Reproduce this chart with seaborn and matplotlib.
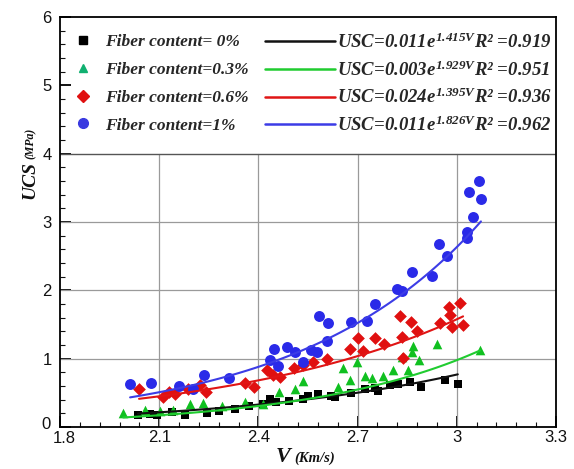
import numpy as np
import pandas as pd
import matplotlib
matplotlib.use("Agg")
import matplotlib.pyplot as plt
import matplotlib.transforms as mtransforms
from matplotlib.lines import Line2D
from matplotlib.ticker import MultipleLocator
import seaborn as sns

# Measured samples: ultrasonic pulse velocity V (km/s) and UCS (MPa)
v_f0 = [2.036, 2.072, 2.093, 2.139, 2.178, 2.245, 2.281, 2.329, 2.372, 2.414,
        2.435, 2.453, 2.492, 2.535, 2.550, 2.580, 2.619, 2.632, 2.680, 2.722,
        2.753, 2.762, 2.798, 2.822, 2.858, 2.892, 2.964, 3.003]
ucs_f0 = [0.176, 0.190, 0.176, 0.220, 0.176, 0.205, 0.234, 0.264, 0.307, 0.337,
          0.410, 0.366, 0.381, 0.410, 0.454, 0.483, 0.454, 0.439, 0.498, 0.556,
          0.571, 0.527, 0.615, 0.630, 0.659, 0.586, 0.688, 0.630]

v_f03 = [1.991, 2.057, 2.102, 2.142, 2.193, 2.232, 2.290, 2.359, 2.414, 2.462,
         2.511, 2.535, 2.641, 2.656, 2.677, 2.698, 2.722, 2.743, 2.777, 2.807,
         2.834, 2.852, 2.864, 2.867, 2.886, 2.940, 3.070]
ucs_f03 = [0.205, 0.249, 0.234, 0.249, 0.337, 0.351, 0.307, 0.366, 0.337, 0.512,
           0.556, 0.673, 0.586, 0.864, 0.688, 0.952, 0.747, 0.717, 0.747, 0.835,
           1.025, 0.835, 1.098, 1.186, 0.981, 1.215, 1.127]

v_f06 = [2.039, 2.111, 2.130, 2.148, 2.187, 2.223, 2.241, 2.359, 2.387, 2.426,
         2.444, 2.465, 2.508, 2.535, 2.565, 2.607, 2.677, 2.701, 2.716, 2.753,
         2.780, 2.828, 2.834, 2.837, 2.861, 2.880, 2.949, 2.976, 2.979, 2.985,
         3.010, 3.019]
ucs_f06 = [0.556, 0.439, 0.512, 0.483, 0.556, 0.615, 0.512, 0.644, 0.586, 0.835,
           0.761, 0.732, 0.864, 0.908, 0.952, 0.996, 1.142, 1.303, 1.113, 1.303,
           1.215, 1.625, 1.318, 1.010, 1.537, 1.406, 1.523, 1.757, 1.640, 1.464,
           1.816, 1.493]

v_f1 = [2.012, 2.075, 2.160, 2.202, 2.235, 2.311, 2.435, 2.447, 2.459, 2.486,
        2.511, 2.535, 2.559, 2.577, 2.583, 2.610, 2.607, 2.680, 2.728, 2.753,
        2.819, 2.834, 2.864, 2.925, 2.946, 2.970, 3.031, 3.031, 3.049, 3.037,
        3.067, 3.073]
ucs_f1 = [0.630, 0.644, 0.600, 0.556, 0.761, 0.717, 0.981, 1.142, 0.893, 1.171,
          1.098, 0.952, 1.127, 1.098, 1.625, 1.523, 1.259, 1.537, 1.552, 1.801,
          2.020, 1.991, 2.269, 2.211, 2.679, 2.504, 2.855, 2.767, 3.075, 3.441,
          3.602, 3.338]

# Exponential fits USC = a * exp(b * V)
fit_a = [0.011, 0.003, 0.024, 0.011]
fit_b = [1.415, 1.929, 1.395, 1.826]
fit_r2 = [0.919, 0.951, 0.936, 0.962]

content_labels = ["Fiber content= 0%", "Fiber content=0.3%",
                  "Fiber content=0.6%", "Fiber content=1%"]

x_ticks = [1.8, 2.1, 2.4, 2.7, 3.0, 3.3]
x_tick_labels = ["1.8", "2.1", "2.4", "2.7", "3", "3.3"]
y_ticks = [0, 1, 2, 3, 4, 5, 6]
y_tick_labels = ["0", "1", "2", "3", "4", "5", "6"]

series_v = [v_f0, v_f03, v_f06, v_f1]
series_ucs = [ucs_f0, ucs_f03, ucs_f06, ucs_f1]

point_colors = ["#000000", "#10c020", "#e01010", "#2a2ae8"]
legend_marker_colors = ["#000000", "#10b070", "#e01010", "#3a3ae0"]
line_colors = ["#111111", "#20cc30", "#e01515", "#3c3ce6"]
markers = ["s", "^", "D", "o"]
marker_sizes = [38, 48, 42, 62]

sns.set_theme(style="ticks")
plt.rcParams["font.family"] = ["Liberation Sans", "DejaVu Sans"]
plt.rcParams["mathtext.fontset"] = "custom"
plt.rcParams["mathtext.it"] = "Liberation Serif:italic:bold"
plt.rcParams["mathtext.rm"] = "Liberation Serif:italic:bold"
plt.rcParams["mathtext.bf"] = "Liberation Serif:italic:bold"

fig = plt.figure(figsize=(5.74, 4.69), dpi=100)
fig.patch.set_facecolor("white")
ax = fig.add_axes([60 / 574, 1 - 427 / 469, 496 / 574, 410 / 469])
ax.set_facecolor("white")

# point data
frames = []
for lab, v, u in zip(content_labels, series_v, series_ucs):
    frames.append(pd.DataFrame({"V": v, "UCS": u, "group": lab}))
points = pd.concat(frames, ignore_index=True)

for i, lab in enumerate(content_labels):
    sub = points[points["group"] == lab]
    sns.scatterplot(data=sub, x="V", y="UCS", ax=ax, marker=markers[i],
                    color=point_colors[i], s=marker_sizes[i], linewidth=0,
                    legend=False, zorder=3)

# fitted curves over each series' velocity range
for i, v in enumerate(series_v):
    vv = np.linspace(min(v), max(v), 120)
    sns.lineplot(x=vv, y=fit_a[i] * np.exp(fit_b[i] * vv), ax=ax,
                 color=line_colors[i], lw=1.5, zorder=4)

ax.set_xlim(x_ticks[0], x_ticks[-1])
ax.set_ylim(y_ticks[0], y_ticks[-1])
ax.set_xticks(x_ticks)
ax.set_xticklabels(x_tick_labels)
ax.set_yticks(y_ticks)
ax.set_yticklabels(y_tick_labels)
ax.xaxis.set_minor_locator(MultipleLocator(0.06))
ax.yaxis.set_minor_locator(MultipleLocator(0.2))
ax.tick_params(which="major", direction="in", length=8, width=1.4,
               labelsize=12, colors="#111111")
ax.tick_params(axis="y", which="major", pad=6)
ax.tick_params(axis="x", which="major", pad=2)
ax.tick_params(which="minor", direction="in", length=3.5, width=0.8,
               colors="#111111")
ax.set_xlabel("")
ax.set_ylabel("")
for s in ax.spines.values():
    s.set_color("#000000")
    s.set_linewidth(1.3)

# keep the corner labels "0" and "1.8" apart
corner_y = ax.get_yticklabels()[0]
corner_y.set_transform(corner_y.get_transform() +
                       mtransforms.ScaledTranslation(-1 / 72, 3 / 72,
                                                     fig.dpi_scale_trans))
corner_x = ax.get_xticklabels()[0]
corner_x.set_transform(corner_x.get_transform() +
                       mtransforms.ScaledTranslation(3 / 72, -1 / 72,
                                                     fig.dpi_scale_trans))

# grid below the legend band (legend band spans 4..6)
ax.grid(False)
band_low = y_ticks[4]
for xt in x_ticks[1:-1]:
    ax.axvline(xt, ymin=0, ymax=band_low / y_ticks[-1], color="#9a9a9a",
               lw=0.9, zorder=0.6)
for yt in y_ticks[1:4]:
    ax.axhline(yt, color="#9a9a9a", lw=0.9, zorder=0.6)
ax.axhline(band_low, color="#555555", lw=1.0, zorder=0.6)

font_col1 = {"family": "Liberation Serif", "style": "italic",
             "weight": "bold", "size": 12.5}
font_col2 = {"family": "Liberation Serif", "style": "italic",
             "weight": "bold", "size": 13.5}

marker_handles = [Line2D([], [], ls="none", marker=markers[i],
                         color=legend_marker_colors[i],
                         markersize=6 if markers[i] != "o" else 7)
                  for i in range(4)]
leg1 = ax.legend(marker_handles, content_labels, loc="upper left",
                 bbox_to_anchor=(0.03, 0.9585), frameon=False, prop=font_col1,
                 handlelength=0.95, handletextpad=0.8, labelspacing=0.67,
                 borderpad=0, borderaxespad=0)
ax.add_artist(leg1)

eq_labels = [f"USC={a:.3f}$e^{{{b:.3f}V}}$R² ={r:.3f}"
             for a, b, r in zip(fit_a, fit_b, fit_r2)]
line_handles = [Line2D([], [], color=line_colors[i], lw=1.8) for i in range(4)]
ax.legend(line_handles, eq_labels, loc="upper left",
          bbox_to_anchor=(0.413, 0.962), frameon=False, prop=font_col2,
          handlelength=3.75, handletextpad=0.1, labelspacing=0.44,
          borderpad=0, borderaxespad=0)

# axis titles with smaller unit text
label_font = dict(family="Liberation Serif", style="italic", weight="bold",
                  color="#111111")
fig.text(0.052, 0.617, "UCS", rotation=90, ha="center", va="center",
         fontsize=14, **label_font)
fig.text(0.054, 0.695, "(MPa)", rotation=90, ha="center", va="center",
         fontsize=8.5, **label_font)
fig.text(0.494, 0.026, "V", ha="center", va="center", fontsize=16,
         **label_font)
fig.text(0.548, 0.023, "(Km/s)", ha="center", va="center", fontsize=10.5,
         **label_font)

fig.savefig("out.png", dpi=100, facecolor="white")
